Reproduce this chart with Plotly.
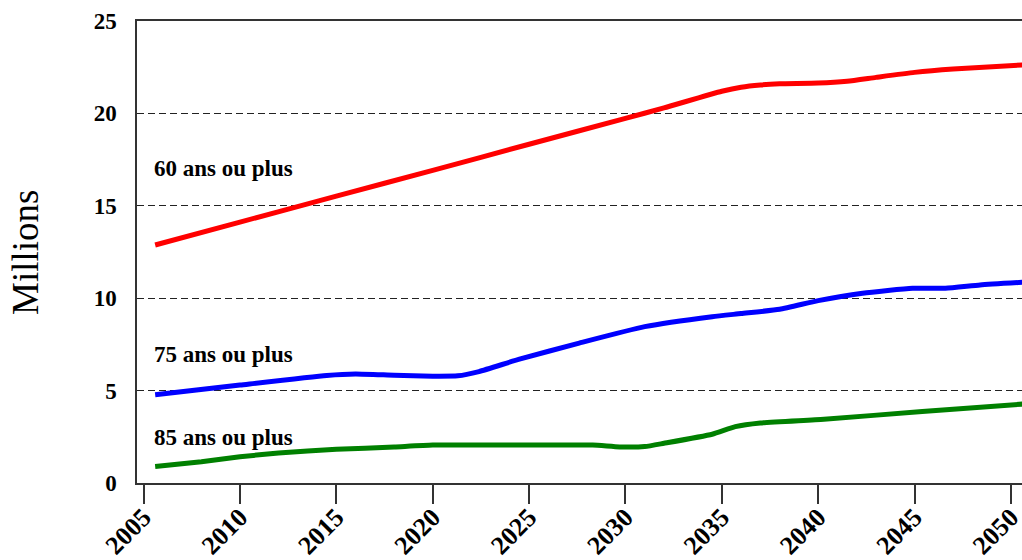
import plotly.graph_objects as go

# Data (millions of people)
years_60 = [2005.6, 2010, 2015, 2020, 2025, 2030, 2032, 2035, 2036, 2037, 2038, 2040, 2041.5, 2043, 2045, 2047, 2050.6]
vals_60 = [12.88, 14.12, 15.52, 16.92, 18.33, 19.73, 20.3, 21.2, 21.42, 21.54, 21.6, 21.64, 21.74, 21.95, 22.22, 22.4, 22.62]

years_75 = [2005.6, 2010, 2014.5, 2016, 2018, 2020, 2021.3, 2022.4, 2024.5, 2027.6, 2031, 2034.5, 2036, 2038, 2040, 2042.3, 2044.9, 2046.6, 2048.4, 2050.6]
vals_75 = [4.77, 5.3, 5.82, 5.9, 5.83, 5.78, 5.8, 6.03, 6.7, 7.57, 8.46, 9.0, 9.17, 9.4, 9.87, 10.27, 10.54, 10.54, 10.72, 10.86]

years_85 = [2005.6, 2008, 2010, 2012, 2015, 2018, 2020, 2025, 2028.3, 2029.7, 2031, 2032, 2034.5, 2035.7, 2037, 2040.3, 2045.4, 2050.6]
vals_85 = [0.89, 1.15, 1.42, 1.62, 1.82, 1.95, 2.05, 2.05, 2.05, 1.95, 1.97, 2.15, 2.64, 3.05, 3.25, 3.45, 3.87, 4.27]

series_labels = ["60 ans ou plus", "75 ans ou plus", "85 ans ou plus"]
label_x = 2005.45
label_y = [17.0, 6.95, 2.45]
x_ticks = [2005, 2010, 2015, 2020, 2025, 2030, 2035, 2040, 2045, 2050]
y_ticks = [0, 5, 10, 15, 20, 25]
y_title = "Millions"

colors = ["#ff0000", "#0000ff", "#008000"]

fig = go.Figure()
for xs, ys, c, name in zip([years_60, years_75, years_85], [vals_60, vals_75, vals_85], colors, series_labels):
    fig.add_trace(go.Scatter(x=xs, y=ys, mode="lines", name=name,
                             line=dict(color=c, width=5, shape="spline", smoothing=0.5),
                             showlegend=False, hoverinfo="skip"))

for text, yv in zip(series_labels, label_y):
    fig.add_annotation(x=label_x, y=yv, xref="x", yref="y", text=text, showarrow=False,
                       xanchor="left", yanchor="middle",
                       font=dict(family="Liberation Serif", size=23, color="black", weight="bold"))

fig.add_annotation(x=-0.1266, y=0.5, xref="paper", yref="paper", text=y_title, showarrow=False,
                   textangle=-90, xanchor="center", yanchor="middle",
                   font=dict(family="Liberation Serif", size=37, color="black"))

fig.update_layout(
    width=1022, height=560,
    margin=dict(l=137, r=0, t=21, b=77, autoexpand=False),
    paper_bgcolor="white", plot_bgcolor="white",
    xaxis=dict(range=[2004.658, 2050.575], tickvals=x_ticks, ticktext=[str(v) for v in x_ticks],
               tickangle=-45, ticks="outside", ticklen=19, tickwidth=1.5, tickcolor="#333",
               showline=True, linecolor="#333", linewidth=1.5, mirror=True,
               showgrid=False, zeroline=False, automargin=False, ticklabelstandoff=-12,
               ticklabeloverflow="allow",
               tickfont=dict(family="Liberation Serif", size=26, color="black", weight="bold")),
    yaxis=dict(range=[0, 25], tickvals=y_ticks, ticks="",
               showline=True, linecolor="#333", linewidth=1.5,
               showgrid=True, gridcolor="#222", gridwidth=1, griddash="7px,4px",
               zeroline=False, ticklabelstandoff=14, automargin=False,
               tickfont=dict(family="Liberation Serif", size=23, color="black", weight="bold")),
)

fig.write_html("out.html", config={"displayModeBar": False},
               post_script="document.body.style.margin='0';document.body.style.overflow='hidden';")
